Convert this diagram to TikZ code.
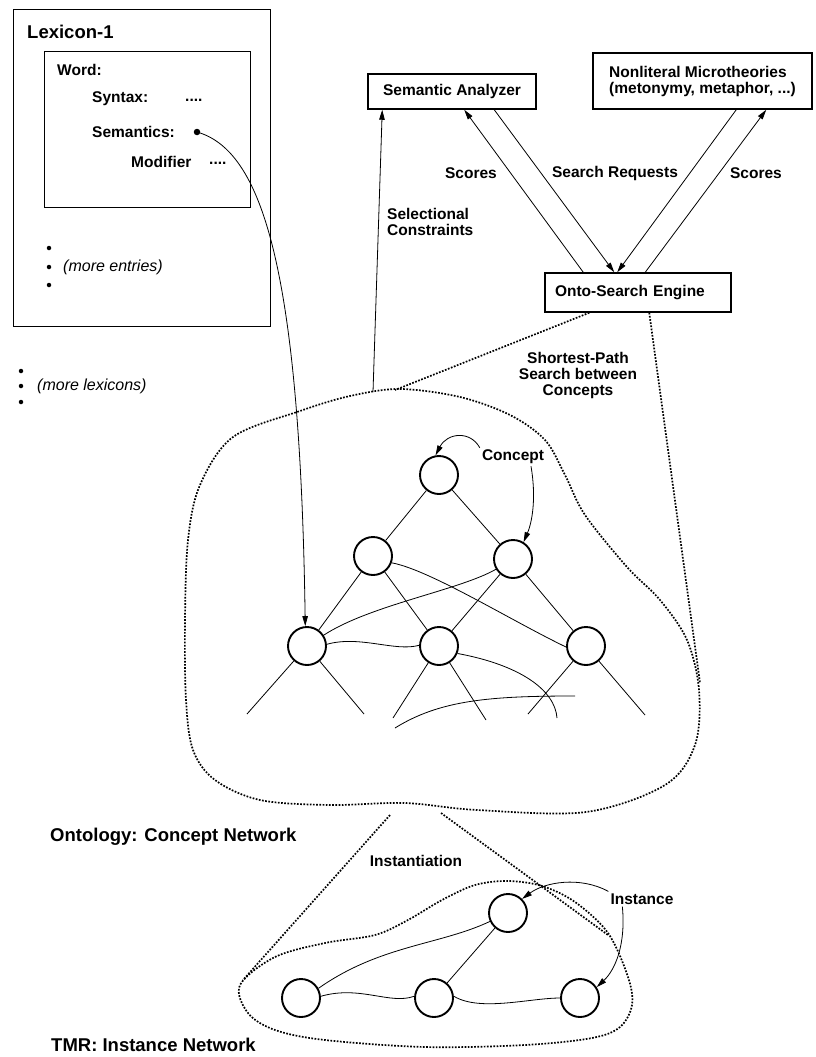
\documentclass[tikz,border=0pt]{standalone}
\usepackage{fontspec}
\setmainfont{Liberation Sans}
\usetikzlibrary{arrows.meta,calc}
\begin{document}
\begin{tikzpicture}[x=1pt,y=-1pt,
  lbl/.style={font=\fontsize{15.5pt}{16pt}\selectfont\bfseries, inner sep=2pt},
  big/.style={font=\fontsize{18.5pt}{20pt}\selectfont\bfseries, inner sep=0pt},
  ital/.style={font=\fontsize{16pt}{18pt}\selectfont\itshape, inner sep=0pt},
  box/.style={draw, line width=1.5pt},
  cnode/.style={circle, draw, line width=1.9pt, minimum size=38pt, inner sep=0pt},
  bul/.style={circle, fill, inner sep=0pt, minimum size=4.5pt},
  arr/.style={line width=0.8pt, -{Triangle[length=10pt,width=5.5pt]}},
  edge/.style={line width=0.8pt},
  dots/.style={line width=1.7pt, dash pattern=on 1.7pt off 1.5pt}
]
\useasboundingbox (0,0) rectangle (815,1057);

% ---------- Lexicon ----------
\node[box, line width=1.3pt, minimum width=257pt, minimum height=317pt, anchor=north west, inner sep=0pt] (lex) at (13,9) {};
\node[box, line width=1.2pt, minimum width=206pt, minimum height=156pt, anchor=north west, inner sep=0pt] (wordbox) at (44,51) {};
\node[big, anchor=west] (lextitle) at (27,32) {Lexicon-1};
\node[lbl, anchor=west, inner sep=0pt] (wordl) at (57,70) {Word:};
\node[lbl, anchor=west, inner sep=0pt] (synl) at (92,99) {Syntax:};
\node[lbl, anchor=west, inner sep=0pt] (syndots) at (185,100) {....};
\node[lbl, anchor=west, inner sep=0pt] (seml) at (92,132) {Semantics:};
\node[circle, fill, inner sep=0pt, minimum size=6.5pt] (semdot) at (197,132) {};
\node[lbl, anchor=west, inner sep=0pt] (modl) at (131,162) {Modifier};
\node[lbl, anchor=west, inner sep=0pt] (moddots) at (209,163) {....};
\node[bul] (b1) at (49,248) {};
\node[bul] (b2) at (49,267) {};
\node[bul] (b3) at (49,285) {};
\node[ital, anchor=west] (moreent) at (63,267) {(more entries)};
\node[bul] (b4) at (21,371) {};
\node[bul] (b5) at (21,386) {};
\node[bul] (b6) at (21,402) {};
\node[ital, anchor=west] (morelex) at (37,386) {(more lexicons)};

% ---------- Top boxes ----------
\node[box, lbl, minimum width=168pt, minimum height=35pt] (sa) at (452,91.5) {Semantic Analyzer};
\node[box, lbl, minimum width=219pt, minimum height=56pt, align=left] (nl) at (702.5,81) {Nonliteral Microtheories\\(metonymy, metaphor, ...)};
\node[box, lbl, minimum height=39pt, text width=166pt, inner xsep=10pt, align=left] (ose) at (638,292.5) {Onto-Search Engine};

\draw[arr] ($(ose.north west)+(39,0)$) -- ($(sa.south west)+(97,0)$);
\draw[arr] ($(sa.south west)+(127,0)$) -- ($(ose.north west)+(70,0)$);
\draw[arr] ($(nl.south west)+(144,0)$) -- ($(ose.north west)+(73,0)$);
\draw[arr] ($(ose.north west)+(101,0)$) -- ($(nl.south west)+(174,0)$);

\node[lbl] (sc1) at (471,173) {Scores};
\node[lbl] (sreq) at (615,173) {Search Requests};
\node[lbl] (sc2) at (756,173) {Scores};
\node[lbl, anchor=west, align=left] (selc) at (385,222) {Selectional\\Constraints};
\node[lbl, align=center] (spl) at (578,375) {Shortest-Path\\Search between\\Concepts};

\coordinate (ctop) at (373,392);
\draw[arr] (ctop) -- ($(sa.south west)+(15,0)$);
\coordinate (cl1) at (395,390);
\draw[dots] ($(ose.south west)+(45,0)$) -- (cl1);
\coordinate (cr1) at (700,683);
\draw[dots] ($(ose.south west)+(105,0)$) -- (cr1);

% ---------- Concept cloud ----------
\draw[dots] plot[smooth cycle, tension=0.55] coordinates {
 (400,389) (460,397) (510,415) (545,440) (565,475) (585,515) (627,567) (660,600)
 (687,640) (699,690) (695,745) (665,785) (586,812) (477,810) (405,803) (330,805)
 (260,800) (215,780) (193,750) (186,700) (185,620) (188,540) (200,485) (233,437)
 (300,411) (350,396)};

% ---------- Concept network ----------
\node[cnode] (cct) at (439,475) {};
\node[cnode] (cml) at (373,556) {};
\node[cnode] (cmr) at (513,559) {};
\node[cnode] (cbl) at (307,646) {};
\node[cnode] (cbm) at (439,646) {};
\node[cnode] (cbr) at (586,646) {};

\draw[edge] (cct) -- (cml);
\draw[edge] (cct) -- (cmr);
\draw[edge] (cml) -- (cbl);
\draw[edge] (cml) -- (cbm);
\draw[edge] (cmr) -- (cbm);
\draw[edge] (cmr) -- (cbr);

\draw[edge] (cml.-20) .. controls (430,570) and (510,620) .. (cbr.183);
\draw[edge] (cmr.211) .. controls (460,590) and (370,605) .. (cbl.33);
\draw[edge] (cbl.5) .. controls (360,635) and (395,652) .. (cbm.178);
\coordinate (e4) at (557,718);
\draw[edge] (cbm.-22) .. controls (520,665) and (555,690) .. (e4);
\coordinate (e5a) at (395,728);
\coordinate (e5b) at (575,696);
\draw[edge] (e5a) .. controls (440,700) and (490,696) .. (e5b);

\coordinate (s1) at (247,714);
\coordinate (s2) at (364,714);
\coordinate (s3) at (393,718);
\coordinate (s4) at (486,720);
\coordinate (s5) at (528,714);
\coordinate (s6) at (645,715);
\draw[edge] (cbl) -- (s1);
\draw[edge] (cbl) -- (s2);
\draw[edge] (cbm) -- (s3);
\draw[edge] (cbm) -- (s4);
\draw[edge] (cbr) -- (s5);
\draw[edge] (cbr) -- (s6);

\node[lbl] (clab) at (513,457) {Concept};
\draw[arr] (clab.north west) .. controls (470,430) and (447,433) .. (cct.100);
\draw[arr] ($(clab.south)+(18,0)$) .. controls (536,495) and (533,520) .. (cmr.58);

% lexicon link
\draw[arr] (semdot.center) .. controls (260,150) and (300,260) .. (cbl.95);

% ---------- Labels ----------
\node[big, anchor=west] (ontl) at (50,837) {Ontology: Concept Network};
\node[big, anchor=west] (tmrl) at (51,1045) {TMR: Instance Network};
\node[lbl] (instl) at (416,861) {Instantiation};
\node[lbl] (inlab) at (642,899) {Instance};

% ---------- Instantiation ----------
\coordinate (i1s) at (390,815);
\coordinate (i1e) at (243,980);
\coordinate (i2s) at (441,813);
\coordinate (i2e) at (608,935);
\draw[dots] (i1s) -- (i1e);
\draw[dots] (i2s) -- (i2e);

\draw[dots] plot[smooth cycle, tension=0.55] coordinates {
 (240,985) (275,957) (325,943) (375,935) (408,920) (442,900) (475,885) (508,881)
 (542,886) (575,902) (608,933) (628,977) (632,1005) (620,1027) (592,1038) (525,1045)
 (425,1047) (325,1040) (275,1030) (248,1013)};

% ---------- Instance network ----------
\node[cnode] (itop) at (508,913) {};
\node[cnode] (il) at (301,998) {};
\node[cnode] (im) at (434,998) {};
\node[cnode] (ir) at (580,998) {};

\draw[edge] (il.29) .. controls (380,945) and (440,945) .. (itop.205);
\draw[edge] (im) -- (itop);
\draw[edge] (il.5) .. controls (360,985) and (390,1005) .. (im.175);
\draw[edge] (im.5) .. controls (480,1012) and (530,998) .. (ir.180);

\draw[arr] (inlab.north west) .. controls (580,876) and (545,882) .. (itop.45);
\draw[arr] ($(inlab.south west)+(14,0)$) .. controls (626,945) and (615,970) .. (ir.33);

\end{tikzpicture}
\end{document}
